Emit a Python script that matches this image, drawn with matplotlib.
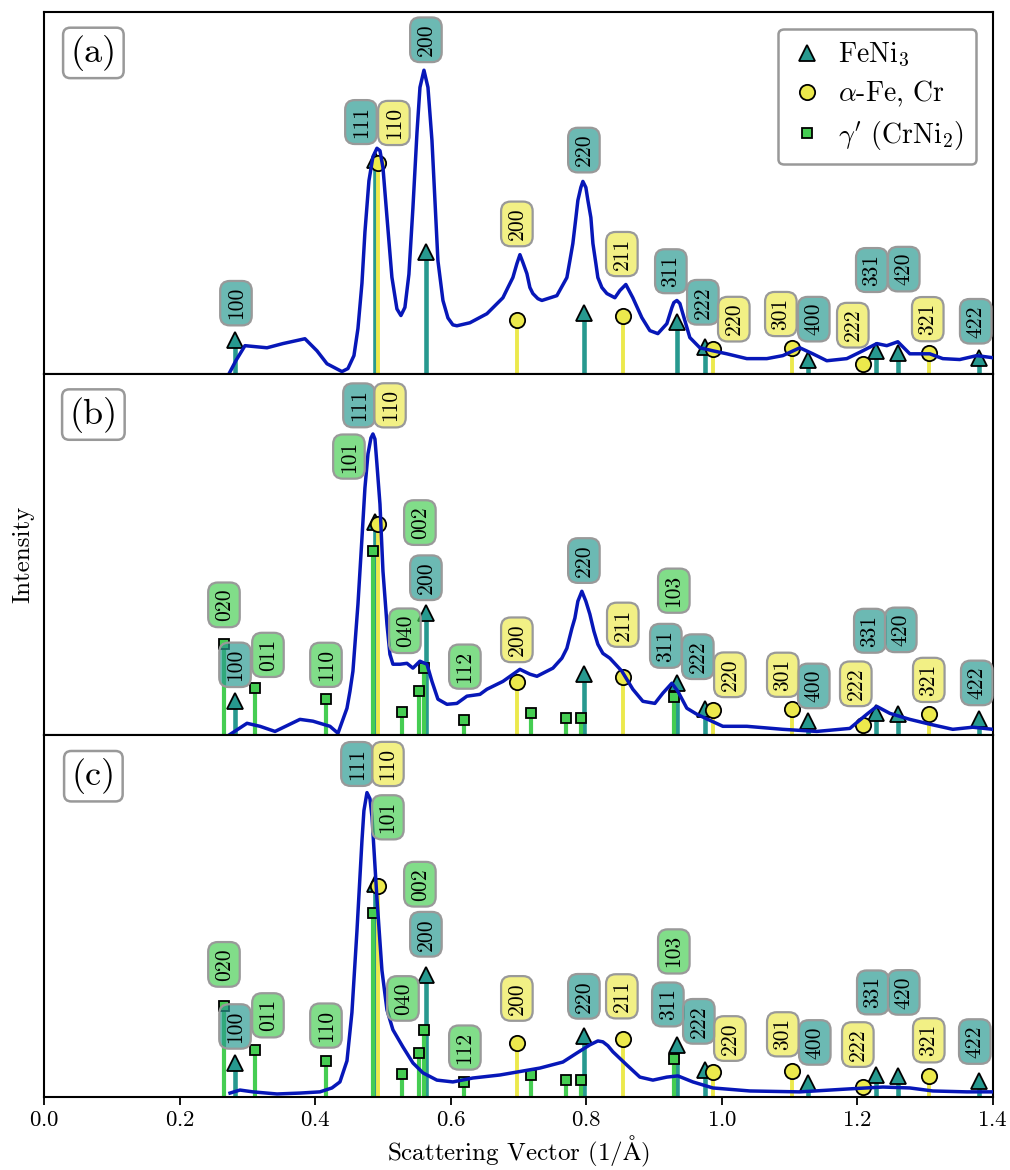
import matplotlib
matplotlib.use('Agg')
import matplotlib.pyplot as plt
from matplotlib.colors import to_rgba
from matplotlib.lines import Line2D

plt.rcParams['font.family'] = ['cmr10', 'DejaVu Serif']
plt.rcParams['mathtext.fontset'] = 'cm'
plt.rcParams['axes.formatter.use_mathtext'] = True

# reference reflections (q in 1/A, relative intensity)
feni3_q = [0.282, 0.488, 0.563, 0.797, 0.934, 0.976, 1.127, 1.228, 1.260, 1.380]
feni3_i = [0.113, 0.708, 0.405, 0.203, 0.173, 0.088, 0.047, 0.074, 0.070, 0.053]
feni3_hkl = ['100', '111', '200', '220', '311', '222', '400', '331', '420', '422']

fe_q = [0.4935, 0.698, 0.855, 0.987, 1.103, 1.209, 1.306]
fe_i = [0.700, 0.178, 0.192, 0.083, 0.086, 0.033, 0.070]
fe_hkl = ['110', '200', '211', '220', '301', '222', '321']

crni2_q = [0.266, 0.311, 0.416, 0.486, 0.528, 0.553, 0.561, 0.620, 0.718, 0.770, 0.792, 0.929]
crni2_i = [0.302, 0.156, 0.120, 0.611, 0.076, 0.146, 0.223, 0.050, 0.073, 0.056, 0.056, 0.126]
crni2_hkl = ['020', '011', '110', '101', '', '040', '002', '112', '', '', '', '103']

# measured curves
curve_a_q = [0.273, 0.283, 0.2965, 0.329, 0.3526, 0.385, 0.4027, 0.4175, 0.4396, 0.4484,
             0.4573, 0.4632, 0.4691, 0.4735, 0.4794, 0.4853, 0.4912, 0.4957, 0.5001, 0.506,
             0.5133, 0.5207, 0.5266, 0.5325, 0.5384, 0.5443, 0.5503, 0.5547, 0.5606, 0.5665,
             0.5724, 0.5768, 0.5812, 0.5886, 0.596, 0.6033, 0.6092, 0.6284, 0.6535, 0.6771,
             0.6845, 0.6918, 0.6977, 0.7022, 0.7066, 0.7125, 0.7169, 0.7213, 0.7287, 0.7346,
             0.7567, 0.7715, 0.7759, 0.7803, 0.7848, 0.7877, 0.7921, 0.7951, 0.7995, 0.8025,
             0.8069, 0.8099, 0.8143, 0.8172, 0.8231, 0.8305, 0.8423, 0.8497, 0.8585, 0.8688,
             0.8821, 0.8939, 0.9057, 0.919, 0.9264, 0.9293, 0.9338, 0.9382, 0.9426, 0.9529,
             0.9677, 0.9869, 1.0075, 1.037, 1.0665, 1.0901, 1.1152, 1.1344, 1.155, 1.1845,
             1.2081, 1.2288, 1.2435, 1.2598, 1.2775, 1.307, 1.3262, 1.3512, 1.3763, 1.4]
curve_a_i = [0.0, 0.043, 0.093, 0.086, 0.100, 0.116, 0.076, 0.033, 0.007, 0.017,
             0.060, 0.150, 0.300, 0.470, 0.640, 0.720, 0.748, 0.740, 0.684, 0.520,
             0.320, 0.215, 0.193, 0.220, 0.330, 0.550, 0.800, 0.950, 1.007, 0.950,
             0.774, 0.575, 0.375, 0.243, 0.185, 0.162, 0.159, 0.169, 0.199, 0.252,
             0.286, 0.319, 0.365, 0.395, 0.369, 0.332, 0.286, 0.266, 0.249, 0.243,
             0.259, 0.319, 0.375, 0.432, 0.518, 0.575, 0.618, 0.638, 0.618, 0.575,
             0.518, 0.432, 0.365, 0.319, 0.286, 0.266, 0.252, 0.276, 0.296, 0.252,
             0.186, 0.143, 0.133, 0.166, 0.219, 0.236, 0.243, 0.233, 0.199, 0.120,
             0.086, 0.076, 0.066, 0.050, 0.050, 0.060, 0.086, 0.066, 0.043, 0.050,
             0.076, 0.100, 0.093, 0.106, 0.066, 0.066, 0.050, 0.047, 0.060, 0.053]

curve_b_q = [0.2744, 0.2995, 0.3186, 0.3408, 0.3776, 0.3968, 0.4219, 0.4337, 0.447, 0.4514,
             0.4558, 0.4632, 0.4691, 0.4735, 0.478, 0.4824, 0.4853, 0.4883, 0.4912, 0.4957,
             0.5001, 0.506, 0.5104, 0.5148, 0.5252, 0.5355, 0.5443, 0.5546, 0.565, 0.5724,
             0.5812, 0.5945, 0.6092, 0.624, 0.6432, 0.6535, 0.6771, 0.7022, 0.7169, 0.7273,
             0.7509, 0.7641, 0.7715, 0.7789, 0.7833, 0.7877, 0.7936, 0.7995, 0.8054, 0.8113,
             0.8172, 0.8246, 0.8349, 0.8526, 0.8688, 0.8836, 0.9013, 0.9131, 0.9264, 0.9353,
             0.9485, 0.9633, 0.9824, 1.0016, 1.037, 1.0901, 1.1403, 1.189, 1.2141, 1.2288,
             1.248, 1.2775, 1.307, 1.3409, 1.3704, 1.4]
curve_b_i = [0.003, 0.040, 0.030, 0.013, 0.053, 0.047, 0.030, 0.007, 0.090, 0.146,
             0.213, 0.435, 0.654, 0.821, 0.934, 0.987, 1.000, 0.983, 0.900, 0.767,
             0.545, 0.369, 0.269, 0.236, 0.236, 0.239, 0.223, 0.246, 0.236, 0.179,
             0.120, 0.103, 0.106, 0.130, 0.136, 0.153, 0.179, 0.219, 0.203, 0.196,
             0.223, 0.256, 0.289, 0.355, 0.389, 0.445, 0.478, 0.445, 0.402, 0.346,
             0.302, 0.272, 0.256, 0.213, 0.153, 0.113, 0.106, 0.140, 0.173, 0.146,
             0.090, 0.070, 0.050, 0.030, 0.030, 0.020, 0.013, 0.023, 0.070, 0.096,
             0.073, 0.053, 0.037, 0.020, 0.027, 0.020]

curve_c_q = [0.2744, 0.2891, 0.3083, 0.3437, 0.3776, 0.4071, 0.4248, 0.4366, 0.447, 0.4543,
             0.4617, 0.4691, 0.4720, 0.4765, 0.4809, 0.4839, 0.4912, 0.4986, 0.506, 0.5148,
             0.5296, 0.5443, 0.5591, 0.5797, 0.6033, 0.6328, 0.6727, 0.7317, 0.7656, 0.7863,
             0.8054, 0.8172, 0.8246, 0.8320, 0.8394, 0.86, 0.8792, 0.8984, 0.919, 0.9353,
             0.9574, 0.9869, 1.0415, 1.1152, 1.189, 1.2377, 1.2775, 1.3114, 1.3616, 1.4]
curve_c_i = [0.013, 0.023, 0.017, 0.010, 0.013, 0.017, 0.030, 0.050, 0.120, 0.280,
             0.550, 0.850, 0.950, 1.010, 0.990, 0.930, 0.660, 0.420, 0.289, 0.223,
             0.166, 0.113, 0.080, 0.056, 0.050, 0.063, 0.073, 0.096, 0.116, 0.146,
             0.173, 0.186, 0.183, 0.170, 0.150, 0.106, 0.066, 0.056, 0.066, 0.070,
             0.050, 0.030, 0.020, 0.017, 0.027, 0.033, 0.030, 0.020, 0.017, 0.017]

# label centres (q, intensity) for every panel
labels_a = {
    'FeNi3': {'100': (0.2832, 0.234), '111': (0.4676, 0.835), '200': (0.5635, 1.108),
              '220': (0.7966, 0.742), '311': (0.9249, 0.340), '222': (0.9721, 0.237),
              '400': (1.1358, 0.181), '331': (1.2214, 0.344), '420': (1.2686, 0.347),
              '422': (1.3748, 0.174)},
    'Fe': {'110': (0.5163, 0.832), '200': (0.6977, 0.497), '211': (0.8526, 0.397),
           '220': (1.0178, 0.181), '301': (1.0872, 0.198), '222': (1.1934, 0.161),
           '321': (1.304, 0.181)},
}
labels_b = {
    'FeNi3': {'100': (0.2818, 0.234), '111': (0.4647, 1.095), '200': (0.5635, 0.523),
              '220': (0.7966, 0.580), '311': (0.9175, 0.297), '222': (0.9647, 0.261),
              '400': (1.1358, 0.164), '331': (1.2185, 0.347), '420': (1.2642, 0.350),
              '422': (1.3763, 0.174)},
    'Fe': {'110': (0.5104, 1.095), '200': (0.6977, 0.317), '211': (0.854, 0.367),
           '220': (1.012, 0.201), '301': (1.0901, 0.201), '222': (1.1978, 0.171),
           '321': (1.3055, 0.184)},
    'CrNi2': {'020': (0.2655, 0.433), '011': (0.3304, 0.267), '110': (0.416, 0.234),
              '101': (0.4499, 0.925), '040': (0.5325, 0.347), '002': (0.5546, 0.706),
              '112': (0.621, 0.228), '103': (0.9293, 0.480)},
}
labels_c = {
    'FeNi3': {'100': (0.2818, 0.234), '111': (0.4617, 1.105), '200': (0.5635, 0.540),
              '220': (0.7966, 0.334), '311': (0.9205, 0.307), '222': (0.9662, 0.251),
              '400': (1.1373, 0.181), '331': (1.2229, 0.347), '420': (1.2686, 0.347),
              '422': (1.3734, 0.184)},
    'Fe': {'110': (0.5074, 1.105), '200': (0.6977, 0.327), '211': (0.8526, 0.334),
           '220': (1.012, 0.194), '301': (1.0901, 0.208), '222': (1.2008, 0.174),
           '321': (1.3055, 0.188)},
    'CrNi2': {'020': (0.2655, 0.440), '011': (0.3304, 0.271), '110': (0.416, 0.237),
              '101': (0.5074, 0.928), '040': (0.5296, 0.327), '002': (0.5546, 0.706),
              '112': (0.621, 0.164), '103': (0.9293, 0.483)},
}

colors = {'FeNi3': '#27998f', 'Fe': '#ece94c', 'CrNi2': '#45cd52'}
phases = {
    'FeNi3': (feni3_q, feni3_i, feni3_hkl, '^', 11),
    'Fe': (fe_q, fe_i, fe_hkl, 'o', 11),
    'CrNi2': (crni2_q, crni2_i, crni2_hkl, 's', 7.5),
}
stem_width = {'FeNi3': 3.3, 'Fe': 2.8, 'CrNi2': 3.0}


def draw_phase(ax, name, labels):
    q, inten, hkl, marker, ms = phases[name]
    c = colors[name]
    for x, h in zip(q, inten):
        ax.plot([x, x], [0, h], color=c, lw=stem_width[name], solid_capstyle='butt', zorder=2)
    ax.plot(q, inten, ls='none', marker=marker, ms=ms, mfc=c, mec='k', mew=1.3, zorder=3)
    for lab, (x, y) in labels.items():
        ax.text(x, y, lab, rotation=90, ha='center', va='center', fontsize=15.5, zorder=6,
                bbox=dict(boxstyle='round,pad=0.28,rounding_size=0.45',
                          fc=to_rgba(c, 0.68), ec='#999999', lw=1.6))


fig, axes = plt.subplots(3, 1, figsize=(10.1, 11.7), dpi=100, sharex=True)
fig.subplots_adjust(left=0.0436, right=0.983, bottom=0.0624, top=0.9897, hspace=0)

panels = [
    ('(a)', curve_a_q, curve_a_i, labels_a, ['FeNi3', 'Fe']),
    ('(b)', curve_b_q, curve_b_i, labels_b, ['FeNi3', 'Fe', 'CrNi2']),
    ('(c)', curve_c_q, curve_c_i, labels_c, ['FeNi3', 'Fe', 'CrNi2']),
]

for ax, (tag, cq, ci, labels, names) in zip(axes, panels):
    for name in names:
        draw_phase(ax, name, labels[name])
    ax.plot(cq, ci, color='#0717b8', lw=2.5, zorder=4, solid_joinstyle='round')
    ax.set_xlim(0, 1.4)
    ax.set_ylim(0, 1.2)
    ax.set_yticks([])
    for s in ax.spines.values():
        s.set_linewidth(1.5)
    ax.tick_params(axis='x', direction='out', length=6, width=1.3, labelsize=16.5)
    ax.text(0.052, 0.887, tag, transform=ax.transAxes, ha='center', va='center', fontsize=26,
            zorder=7, bbox=dict(boxstyle='round,pad=0.2', fc='white', ec='#999999', lw=1.8))

axes[0].tick_params(axis='x', length=0)
axes[1].tick_params(axis='x', length=0)
axes[2].set_xlabel(r'Scattering Vector (1/$\mathrm{\AA}$)', fontsize=18, labelpad=3)
axes[1].set_ylabel('Intensity', fontsize=18, labelpad=7)

handles = [
    Line2D([], [], ls='none', marker='^', ms=11, mfc=colors['FeNi3'], mec='k', mew=1.3),
    Line2D([], [], ls='none', marker='o', ms=11, mfc=colors['Fe'], mec='k', mew=1.3),
    Line2D([], [], ls='none', marker='s', ms=7.5, mfc=colors['CrNi2'], mec='k', mew=1.3),
]
leg = axes[0].legend(handles, [r'FeNi$_3$', r'$\alpha$-Fe, Cr', r"$\gamma'$ (CrNi$_2$)"],
                     loc='upper right', fontsize=20, frameon=True, fancybox=True,
                     handlelength=1.2, handletextpad=0.5, borderaxespad=0.6,
                     labelspacing=0.35, borderpad=0.45)
leg.get_frame().set_edgecolor('#999999')
leg.get_frame().set_linewidth(1.8)
leg.get_frame().set_alpha(1)
leg.set_zorder(8)

fig.savefig('out.png', dpi=100)
